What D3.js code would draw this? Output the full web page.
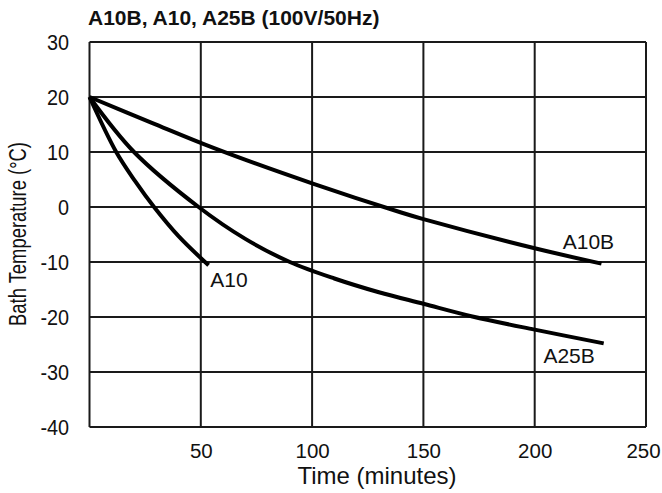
<!DOCTYPE html>
<html>
<head>
<meta charset="utf-8">
<script src="https://cdn.jsdelivr.net/npm/d3@7"></script>
<style>
  body { margin: 0; background: #fff; }
  svg text { font-family: "Liberation Sans", Arial, sans-serif; fill: #111; }
</style>
</head>
<body>
<svg id="chart"></svg>
<script>
// values
var xTicks = [50, 100, 150, 200, 250];
var yTicks = [30, 20, 10, 0, -10, -20, -30, -40];

var timeA10 = [0, 12, 20.5, 29, 40, 53.5];
var tempA10 = [20, 10, 4.7, 0, -5.3, -10.6];

var timeA10B = [0, 28, 56, 100, 140, 150, 200, 230];
var tempA10B = [20, 15.3, 10.7, 4.3, -1, -2.2, -7.5, -10.3];

var timeA25B = [0, 20, 49, 70, 90, 110, 130, 150, 172, 200, 231];
var tempA25B = [20, 10, 0, -5.8, -10, -13, -15.5, -17.6, -19.9, -22.3, -24.8];

var seriesNames = ["A10", "A10B", "A25B"];

var width = 662, height = 493;
var margin = { top: 42, right: 16, bottom: 66, left: 89.5 };

var svg = d3.select("#chart").attr("width", width).attr("height", height);

var xScale = d3.scaleLinear().domain([0, 250]).range([margin.left, width - margin.right]);
var yScale = d3.scaleLinear().domain([-40, 30]).range([height - margin.bottom, margin.top]);

// grid
var grid = svg.append("g").attr("stroke", "#1a1a1a").attr("stroke-width", 2);
grid.selectAll("line.h").data(yTicks).enter().append("line")
  .attr("class", "h")
  .attr("x1", xScale(0)).attr("x2", xScale(250))
  .attr("y1", function(d) { return yScale(d); })
  .attr("y2", function(d) { return yScale(d); });
grid.selectAll("line.v").data([0].concat(xTicks)).enter().append("line")
  .attr("class", "v")
  .attr("y1", yScale(30)).attr("y2", yScale(-40))
  .attr("x1", function(d) { return xScale(d); })
  .attr("x2", function(d) { return xScale(d); });

// plain hyphen for negatives, like the original
var fmt = function(d) { return String(d); };

// the original uses a slightly condensed face for the numbers
function squeeze(sel) {
  sel.each(function() {
    var w = this.getComputedTextLength();
    d3.select(this).attr("textLength", w * 0.9).attr("lengthAdjust", "spacingAndGlyphs");
  });
}

// y axis (labels only)
var yAxis = d3.axisLeft(yScale).tickValues(yTicks).tickSize(0).tickPadding(20.5).tickFormat(fmt);
svg.append("g").attr("transform", "translate(" + margin.left + ",0)").call(yAxis)
  .attr("font-size", null).attr("font-family", null)
  .call(function(g) { g.select(".domain").remove(); })
  .selectAll("text").style("font-size", "22px").call(squeeze);

// x axis (labels only)
var xAxis = d3.axisBottom(xScale).tickValues(xTicks).tickSize(0).tickPadding(16.5).tickFormat(fmt);
svg.append("g").attr("transform", "translate(0," + (height - margin.bottom) + ")").call(xAxis)
  .attr("font-size", null).attr("font-family", null)
  .call(function(g) { g.select(".domain").remove(); })
  .selectAll("text").style("font-size", "20.5px")
  .attr("dx", function(d) { return d === 250 ? -3 : 0; });

// curves
var line = d3.line()
  .x(function(d) { return xScale(d[0]); })
  .y(function(d) { return yScale(d[1]); })
  .curve(d3.curveCatmullRom.alpha(0.5));

var curves = [
  d3.zip(timeA10, tempA10),
  d3.zip(timeA10B, tempA10B),
  d3.zip(timeA25B, tempA25B)
];
svg.selectAll("path.curve").data(curves).enter().append("path")
  .attr("class", "curve")
  .attr("d", line)
  .attr("fill", "none")
  .attr("stroke", "#000")
  .attr("stroke-width", 4);

// curve labels, offset from the end of each curve (in data units)
var labelOffset = [
  { dx: 0.8, dy: -4 },
  { dx: -17.4, dy: 2.6 },
  { dx: -27.1, dy: -3.6 }
];
var ends = [
  [timeA10[timeA10.length - 1], tempA10[tempA10.length - 1]],
  [timeA10B[timeA10B.length - 1], tempA10B[tempA10B.length - 1]],
  [timeA25B[timeA25B.length - 1], tempA25B[tempA25B.length - 1]]
];
svg.selectAll("text.lbl").data(seriesNames).enter().append("text")
  .attr("class", "lbl")
  .attr("x", function(d, i) { return xScale(ends[i][0] + labelOffset[i].dx); })
  .attr("y", function(d, i) { return yScale(ends[i][1] + labelOffset[i].dy); })
  .style("font-size", "21px")
  .text(function(d) { return d; });

// titles
svg.append("text")
  .attr("x", 88).attr("y", 25)
  .style("font-size", "21px").style("font-weight", "bold")
  .text("A10B, A10, A25B (100V/50Hz)");

svg.append("text")
  .attr("x", 377).attr("y", 484)
  .attr("text-anchor", "middle")
  .style("font-size", "24px")
  .text("Time (minutes)");

svg.append("text")
  .attr("transform", "translate(26,234) rotate(-90)")
  .attr("text-anchor", "middle")
  .attr("textLength", 184).attr("lengthAdjust", "spacingAndGlyphs")
  .style("font-size", "23px")
  .text("Bath Temperature (°C)");
</script>
</body>
</html>
